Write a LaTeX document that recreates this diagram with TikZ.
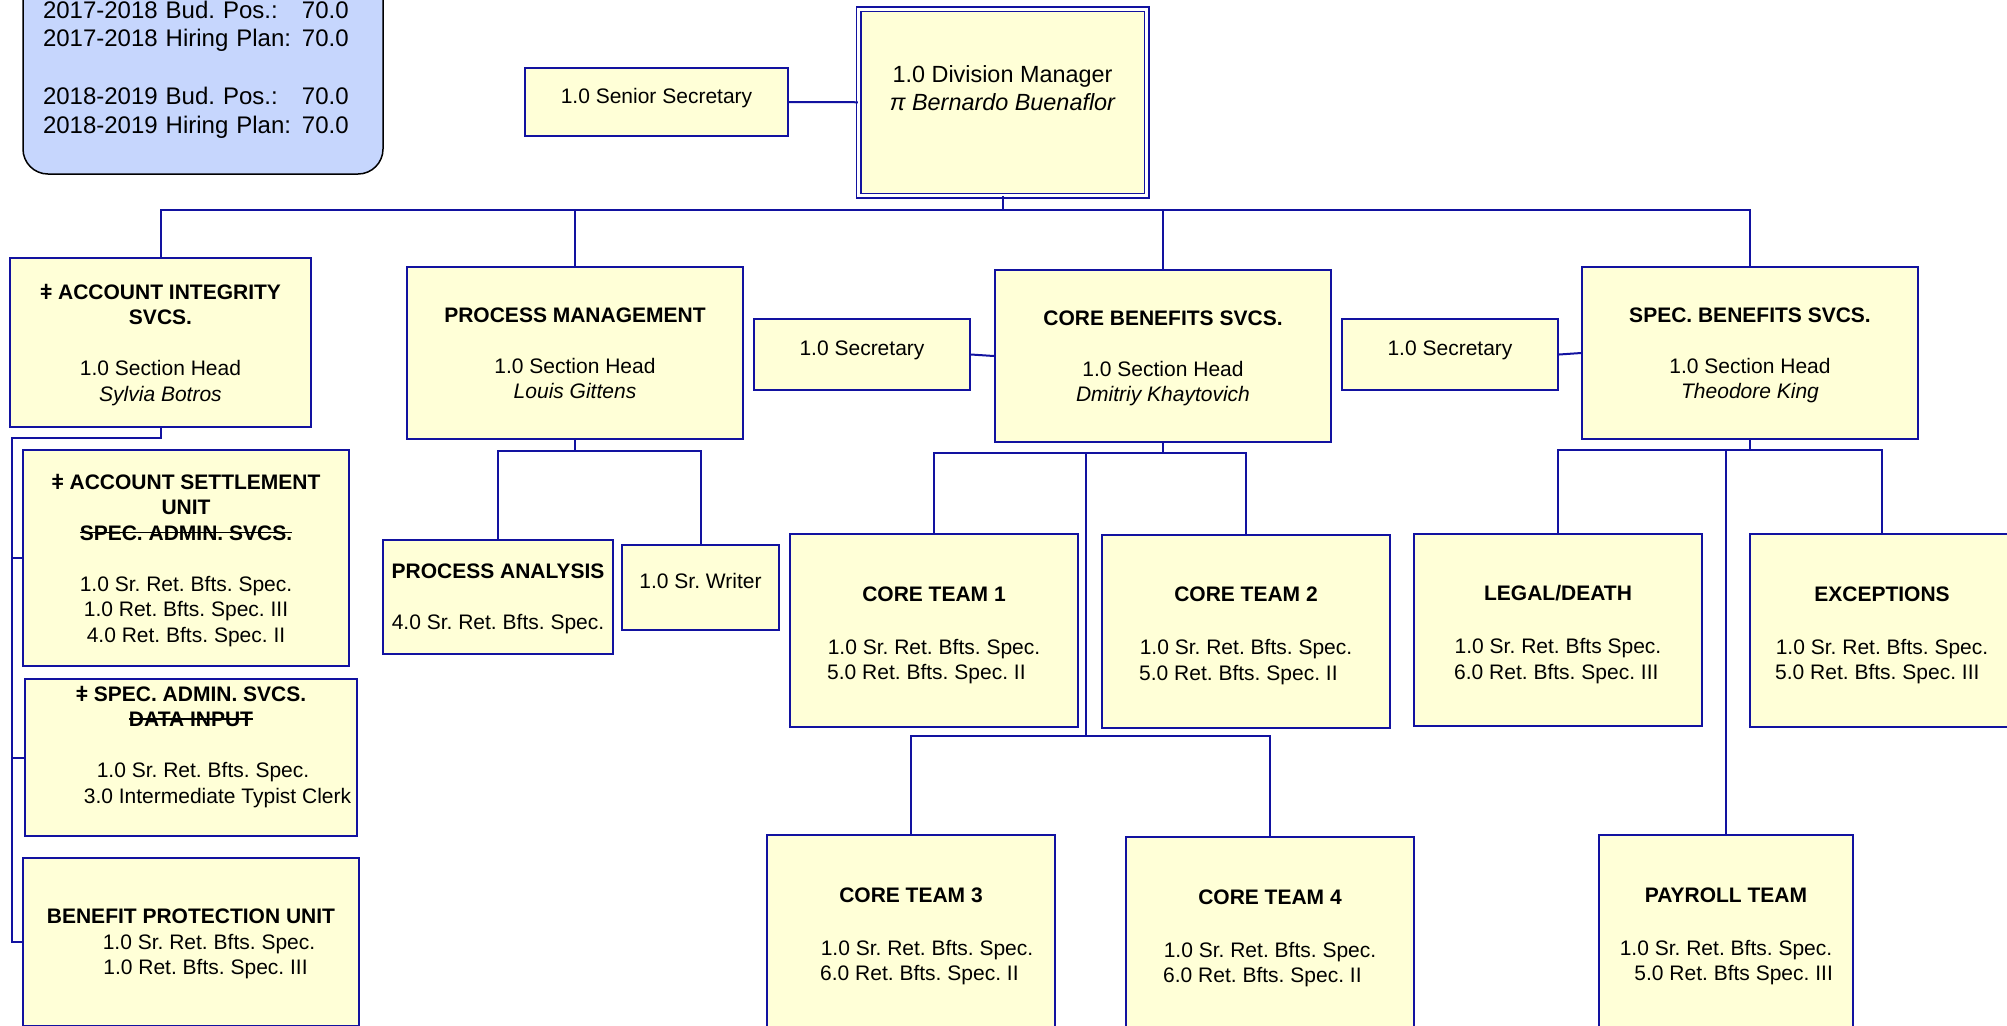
\documentclass[tikz,border=0pt]{standalone}
\usepackage{fontspec}
\setmainfont{Liberation Sans}
\definecolor{orgblue}{RGB}{18,18,160}
\definecolor{cream}{RGB}{255,255,215}
\definecolor{budget}{RGB}{198,214,253}
\newcommand\struckout[1]{\setbox0\hbox{#1}\rlap{\rule[0.32em]{\wd0}{0.08em}}\box0}
\newcommand\teamhead[1]{{\bfseries\rule{0pt}{10pt}#1}}

\begin{document}
\frenchspacing
\begin{tikzpicture}[x=0.5pt,y=-0.5pt,
    orgbox/.style={draw=orgblue,fill=cream,line width=1pt,inner sep=0pt,align=center,
      text depth=0pt,font=\fontsize{10.5}{12.75}\selectfont},
    teambox/.style={orgbox,minimum width=144pt,minimum height=96.5pt},
    link/.style={draw=orgblue,line width=1pt}]
   \useasboundingbox (0,0) rectangle (2007,1025);
   \clip (0,0) rectangle (2007,1025);

   \node (budget) [draw=black,fill=budget,line width=0.75pt,rounded corners=12.5pt,
      text width=160pt,inner xsep=10pt,inner ysep=0pt,minimum height=104.5pt,align=left,
      font=\fontsize{12}{14.375}\selectfont] at (203,69.5)
      {\makebox[129.5pt][l]{2017-2018 Bud. Pos.:}70.0\\
       \makebox[129.5pt][l]{2017-2018 Hiring Plan:}70.0\\[14.375pt]
       \makebox[129.5pt][l]{2018-2019 Bud. Pos.:}70.0\\
       \makebox[129.5pt][l]{2018-2019 Hiring Plan:}70.0};

   \node (sensec) [orgbox,text depth=6pt,minimum width=131.5pt,minimum height=34pt] at (656.5,102) {1.0 Senior Secretary};
   \node (divmgr) [orgbox,double=white,double distance=1.5pt,line width=0.75pt,
      minimum width=144pt,minimum height=93.25pt,font=\fontsize{11.7}{14}\selectfont]
      at (1002.5,102.25) {1.0 Division Manager\\{\itshape π Bernardo Buenaflor}\\\strut};

   \node (ais) [orgbox,minimum width=150.5pt,minimum height=84.5pt] at (160.5,342.5)
      {{\bfseries ǂ ACCOUNT INTEGRITY}\\{\bfseries SVCS.}\\[12.75pt]1.0 Section Head\\{\itshape Sylvia Botros}};
   \node (pm) [orgbox,minimum width=168pt,minimum height=86pt] at (575,353)
      {{\bfseries PROCESS MANAGEMENT}\\[12.75pt]1.0 Section Head\\{\itshape Louis Gittens}};
   \node (cbs) [orgbox,minimum width=168pt,minimum height=86pt] at (1163,356)
      {{\bfseries CORE BENEFITS SVCS.}\\[12.75pt]1.0 Section Head\\{\itshape Dmitriy Khaytovich}};
   \node (sbs) [orgbox,minimum width=168pt,minimum height=86pt] at (1750,353)
      {{\bfseries SPEC. BENEFITS SVCS.}\\[12.75pt]1.0 Section Head\\{\itshape Theodore King}};
   \node (sec1) [orgbox,text depth=6pt,minimum width=108pt,minimum height=35.5pt] at (862,354.5) {1.0 Secretary};
   \node (sec2) [orgbox,text depth=6pt,minimum width=108pt,minimum height=35.5pt] at (1450,354.5) {1.0 Secretary};

   \node (asu) [orgbox,minimum width=163pt,minimum height=108pt] at (186,558)
      {{\bfseries ǂ ACCOUNT SETTLEMENT}\\{\bfseries UNIT}\\{\bfseries\struckout{SPEC. ADMIN. SVCS.}}\\[12.75pt]
       1.0 Sr. Ret. Bfts. Spec.\\1.0 Ret. Bfts. Spec. III\\4.0 Ret. Bfts. Spec. II};
   \node (sas) [orgbox,minimum width=166pt,minimum height=78.5pt] at (191,757.5)
      {{\bfseries ǂ SPEC. ADMIN. SVCS.}\\{\bfseries\struckout{DATA INPUT}}\\[12.75pt]
       \hspace*{12pt}1.0 Sr. Ret. Bfts. Spec.\\\hspace*{26.5pt}3.0 Intermediate Typist Clerk\\\strut};
   \node (bpu) [orgbox,minimum width=168pt,minimum height=84pt] at (191,942)
      {{\bfseries BENEFIT PROTECTION UNIT}\\\hspace*{18pt}1.0 Sr. Ret. Bfts. Spec.\\\hspace*{14.5pt}1.0 Ret. Bfts. Spec. III};

   \node (pa) [orgbox,minimum width=115pt,minimum height=57pt] at (498,597)
      {{\bfseries PROCESS ANALYSIS}\\[12.75pt]4.0 Sr. Ret. Bfts. Spec.};
   \node (srw) [orgbox,minimum width=78.5pt,minimum height=42.5pt] at (700.5,587.5) {1.0 Sr. Writer\\[-6pt]\strut};

   \node (ct1) [teambox] at (934,630.5)
      {\teamhead{CORE TEAM 1}\\[13.75pt]1.0 Sr. Ret. Bfts. Spec.\\5.0 Ret. Bfts. Spec. II\hspace*{7.6pt}};
   \node (ct2) [teambox] at (1246,631)
      {\teamhead{CORE TEAM 2}\\[13.75pt]1.0 Sr. Ret. Bfts. Spec.\\5.0 Ret. Bfts. Spec. II\hspace*{7.6pt}};
   \node (ct3) [teambox] at (911,931.5)
      {\teamhead{CORE TEAM 3}\\[13.75pt]\hspace*{16pt}1.0 Sr. Ret. Bfts. Spec.\\\hspace*{16pt}6.0 Ret. Bfts. Spec. II\hspace*{7.6pt}};
   \node (ct4) [teambox] at (1270,933.5)
      {\teamhead{CORE TEAM 4}\\[13.75pt]1.0 Sr. Ret. Bfts. Spec.\\6.0 Ret. Bfts. Spec. II\hspace*{7.6pt}};

   \node (legal) [teambox,minimum height=96pt] at (1558,630)
      {\teamhead{LEGAL/DEATH}\\[13.75pt]1.0 Sr. Ret. Bfts Spec.\\6.0 Ret. Bfts. Spec. III\hspace*{1.7pt}};
   \node (exc) [teambox,minimum width=132pt] at (1882,630.5)
      {\teamhead{EXCEPTIONS}\\[13.75pt]1.0 Sr. Ret. Bfts. Spec.\\5.0 Ret. Bfts. Spec. III\hspace*{4.7pt}};
   \node (pay) [teambox,minimum width=127pt] at (1726,931.5)
      {\teamhead{PAYROLL TEAM}\\[13.75pt]1.0 Sr. Ret. Bfts. Spec.\\\hspace*{7.6pt}5.0 Ret. Bfts Spec. III};

   \coordinate (topbus) at (1002.5,210);
   \coordinate (aisbend) at (160.5,438);
   \coordinate (aisrail) at (12,438);
   \coordinate (pmbus) at (575,451);
   \coordinate (cbsbus) at (1163,453);
   \coordinate (corebus) at (1086,736);
   \coordinate (sbsbus) at (1750,450);

   \draw[link] (sensec.east) -- (divmgr.west);
   \draw[link] (divmgr) -- (topbus);
   \foreach \n in {ais,pm,cbs,sbs}
      \draw[link] (topbus) -| (\n.north);
   \draw[link] (ais) -- (aisbend) -- (aisrail) |- (bpu.west);
   \draw[link] (aisrail) |- (asu.west);
   \draw[link] (aisrail) |- (sas.west);
   \draw[link] (pm) -- (pmbus);
   \foreach \n in {pa,srw}
      \draw[link] (pmbus) -| (\n.north);
   \draw[link] (sec1.east) -- (cbs.west);
   \draw[link] (cbs) -- (cbsbus);
   \foreach \n in {ct1,ct2}
      \draw[link] (cbsbus) -| (\n.north);
   \draw[link] (cbsbus) -| (corebus);
   \foreach \n in {ct3,ct4}
      \draw[link] (corebus) -| (\n.north);
   \draw[link] (sec2.east) -- (sbs.west);
   \draw[link] (sbs) -- (sbsbus);
   \foreach \n in {legal,exc,pay}
      \draw[link] (sbsbus) -| (\n.north);
\end{tikzpicture}
\end{document}
